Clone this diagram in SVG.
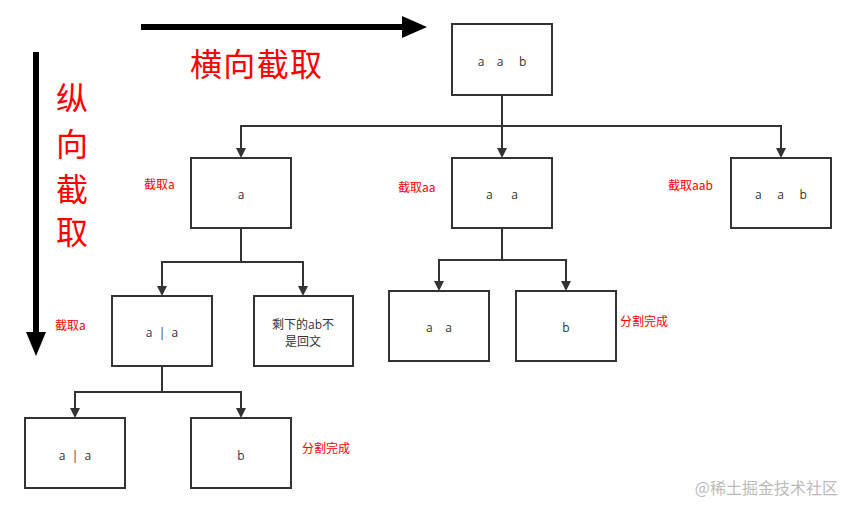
<svg xmlns="http://www.w3.org/2000/svg" width="856" height="514" viewBox="0 0 856 514">
<style>
.box{fill:#fff;stroke:#333;stroke-width:2}
.t{font-family:"Open Sans","Noto Sans CJK SC",sans-serif;font-size:12px;fill:#333;text-anchor:middle;white-space:pre}
.r{font-family:"Noto Sans CJK SC",sans-serif;font-size:12px;fill:#f00}
.big{font-family:"Noto Sans CJK SC",sans-serif;font-size:32px;fill:#f00}
.c{fill:none;stroke:#333;stroke-width:2}
</style>
<defs>
<marker id="ah" markerWidth="10" markerHeight="10" refX="8" refY="5" orient="auto" markerUnits="userSpaceOnUse"><path d="M0,0 L10,5 L0,10 Z" fill="#333"/></marker>
</defs>
<rect width="856" height="514" fill="#fff"/>
<g id="bigArrows">
<path d="M141,27 L405,27" stroke="#000" stroke-width="6"/>
<path d="M402,16 L427,27 L402,38 Z" fill="#000"/>
<path d="M36,52 L36,336" stroke="#000" stroke-width="6"/>
<path d="M26,332 L36,356 L46,332 Z" fill="#000"/>
<text class="big" x="190" y="76" textLength="132">横向截取</text>
<text class="big" x="56" y="110">纵</text>
<text class="big" x="56" y="156">向</text>
<text class="big" x="56" y="201">截</text>
<text class="big" x="56" y="244">取</text>
</g>
<g id="connectors">
<path class="c" d="M502,95 V156" marker-end="url(#ah)"/>
<path class="c" d="M241,156 V126 H781 V156" marker-end="url(#ah)"/>
<path class="c" d="M241,126 V156" marker-end="url(#ah)"/>
<path class="c" d="M241,228 V262 H303 V294" marker-end="url(#ah)"/>
<path class="c" d="M241,262 H162 V294" marker-end="url(#ah)"/>
<path class="c" d="M502,228 V260 H566 V289" marker-end="url(#ah)"/>
<path class="c" d="M502,260 H439 V289" marker-end="url(#ah)"/>
<path class="c" d="M162,366 V392 H241 V416" marker-end="url(#ah)"/>
<path class="c" d="M162,392 H75 V416" marker-end="url(#ah)"/>
</g>
<g id="root"><rect class="box" x="452" y="24" width="100" height="71"/><text class="t" x="502" y="66">a    a     b</text></g>
<g id="n1"><rect class="box" x="191" y="158" width="100" height="70"/><text class="t" x="241" y="199">a</text><text class="r" x="144" y="189">截取a</text></g>
<g id="n2"><rect class="box" x="452" y="158" width="100" height="70"/><text class="t" x="502" y="199">a      a</text><text class="r" x="398" y="192">截取aa</text></g>
<g id="n3"><rect class="box" x="731" y="158" width="100" height="70"/><text class="t" x="781" y="199">a     a     b</text><text class="r" x="668" y="190">截取aab</text></g>
<g id="n4"><rect class="box" x="112" y="296" width="100" height="70"/><text class="t" x="162" y="337">a  |  a</text><text class="r" x="55" y="330">截取a</text></g>
<g id="n5"><rect class="box" x="254" y="296" width="99" height="70"/><text class="t" x="303" y="329">剩下的ab不</text><text class="t" x="303" y="346">是回文</text></g>
<g id="n6"><rect class="box" x="389" y="291" width="100" height="70"/><text class="t" x="439" y="332">a    a</text></g>
<g id="n7"><rect class="box" x="516" y="291" width="100" height="70"/><text class="t" x="566" y="332">b</text><text class="r" x="620" y="326">分割完成</text></g>
<g id="n8"><rect class="box" x="25" y="418" width="100" height="70"/><text class="t" x="75" y="460">a  |  a</text></g>
<g id="n9"><rect class="box" x="191" y="418" width="100" height="70"/><text class="t" x="241" y="460">b</text><text class="r" x="302" y="453">分割完成</text></g>
<text x="838" y="494" text-anchor="end" font-family="Noto Sans CJK SC,sans-serif" font-size="16" fill="#bbb">@稀土掘金技术社区</text>
</svg>
